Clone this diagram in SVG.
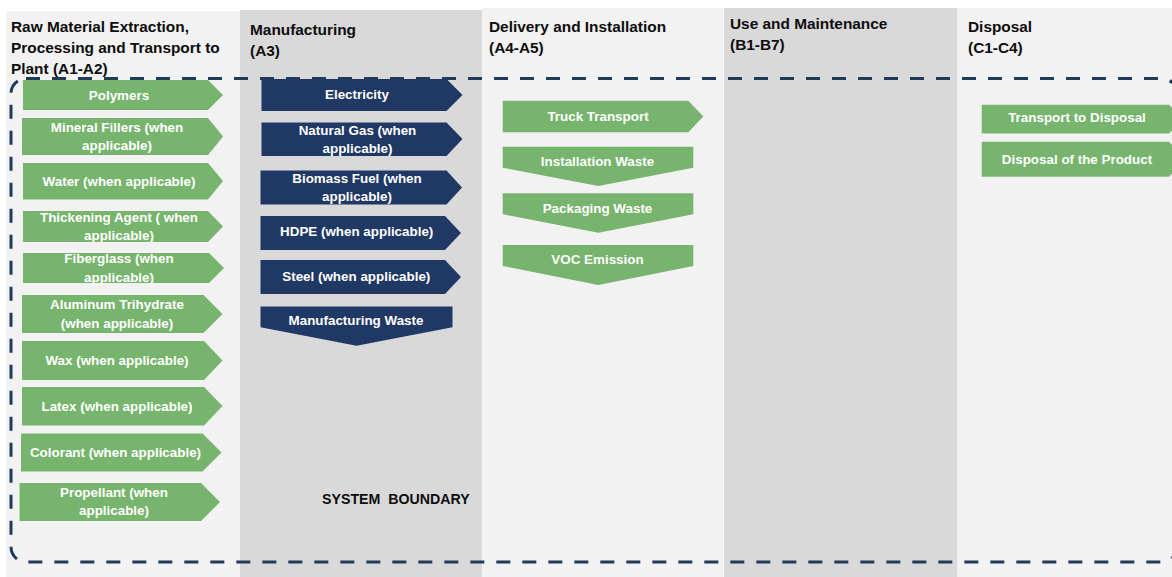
<svg xmlns="http://www.w3.org/2000/svg" width="1172" height="577" viewBox="0 0 1172 577">
<style>
.light{fill:#f2f2f2}
.dark{fill:#d9d9d9}
.hdr{font-family:"Liberation Sans",Arial,sans-serif;font-weight:bold;font-size:15.4px;fill:#0d0d0d}
.g{fill:#77b46d}
.n{fill:#1f3864}
.t{font-family:"Liberation Sans",Arial,sans-serif;font-weight:bold;font-size:13.4px;fill:#ffffff;text-anchor:middle}
.sb{font-family:"Liberation Sans",Arial,sans-serif;font-weight:bold;font-size:14.2px;fill:#0d0d0d;white-space:pre}
.bnd{fill:none;stroke:#1f3b59;stroke-width:3;stroke-dasharray:14 12}
</style>
<rect width="1172" height="577" fill="#ffffff"/>
<g id="columns">
<rect class="light" x="6" y="11" width="234" height="566"/>
<rect class="dark" x="240" y="10" width="242" height="567"/>
<rect class="light" x="482" y="8" width="241" height="569"/>
<rect class="dark" x="724" y="8" width="233" height="569"/>
<rect class="light" x="957" y="8" width="215" height="569"/>
</g>
<g id="headers">
<text class="hdr" x="11" y="32">Raw Material Extraction,</text>
<text class="hdr" x="11" y="53">Processing and Transport to</text>
<text class="hdr" x="11" y="74">Plant (A1-A2)</text>
<text class="hdr" x="250" y="34.5">Manufacturing</text>
<text class="hdr" x="250" y="55.5">(A3)</text>
<text class="hdr" x="489" y="32">Delivery and Installation</text>
<text class="hdr" x="489" y="53">(A4-A5)</text>
<text class="hdr" x="730" y="29">Use and Maintenance</text>
<text class="hdr" x="730" y="50">(B1-B7)</text>
<text class="hdr" x="968" y="32">Disposal</text>
<text class="hdr" x="968" y="53">(C1-C4)</text>
</g>
<g id="system-boundary">
<rect class="bnd" x="11" y="78.5" width="1166" height="483.5" rx="15" ry="15"/>
<text class="sb" x="322" y="504">SYSTEM  BOUNDARY</text>
</g>
<g id="connectors"></g>
<g id="polymers"><polygon class="g" points="23,80 208,80 223,95 208,110 23,110"/><text class="t" x="119" y="99.5">Polymers</text></g>
<g id="mineral-fillers"><polygon class="g" points="22,118 208,118 223,136.5 208,155 22,155"/><text class="t" x="117" y="131.5">Mineral Fillers (when</text><text class="t" x="117" y="150">applicable)</text></g>
<g id="water"><polygon class="g" points="23,163 208,163 223,181 208,199.5 23,199.5"/><text class="t" x="119" y="185.5">Water (when applicable)</text></g>
<g id="thickening-agent"><polygon class="g" points="23,211 208,211 223,226.5 208,242 23,242"/><text class="t" x="119" y="221.5">Thickening Agent ( when</text><text class="t" x="119" y="240">applicable)</text></g>
<g id="fiberglass"><polygon class="g" points="23,253 209,253 224,268 209,283 23,283"/><text class="t" x="119" y="263">Fiberglass (when</text><text class="t" x="119" y="281.5">applicable)</text></g>
<g id="aluminum-trihydrate"><polygon class="g" points="22,295 203.5,295 222.5,314 203.5,333 22,333"/><text class="t" x="117" y="309">Aluminum Trihydrate</text><text class="t" x="117" y="328">(when applicable)</text></g>
<g id="wax"><polygon class="g" points="22,341 204,341 222.5,360.5 204,380 22,380"/><text class="t" x="117" y="365">Wax (when applicable)</text></g>
<g id="latex"><polygon class="g" points="22,387 204,387 222.5,406 204,425.5 22,425.5"/><text class="t" x="117" y="410.5">Latex (when applicable)</text></g>
<g id="colorant"><polygon class="g" points="21,433.5 202.5,433.5 221.5,452.5 202.5,471.5 21,471.5"/><text class="t" x="115.5" y="456.5">Colorant (when applicable)</text></g>
<g id="propellant"><polygon class="g" points="19.5,483 201,483 220,502 201,521 19.5,521"/><text class="t" x="114" y="496.5">Propellant (when</text><text class="t" x="114" y="515">applicable)</text></g>
<g id="electricity"><polygon class="n" points="261.5,79 446.5,79 462.5,95 446.5,111 261.5,111"/><text class="t" x="357" y="99.3">Electricity</text></g>
<g id="natural-gas"><polygon class="n" points="261.5,122.5 446.5,122.5 462.5,139 446.5,156 261.5,156"/><text class="t" x="357.5" y="135">Natural Gas (when</text><text class="t" x="357.5" y="153.3">applicable)</text></g>
<g id="biomass-fuel"><polygon class="n" points="260.5,170.5 446.5,170.5 462,187.5 446.5,204.5 260.5,204.5"/><text class="t" x="357" y="182.5">Biomass Fuel (when</text><text class="t" x="357" y="200.5">applicable)</text></g>
<g id="hdpe"><polygon class="n" points="260.5,216 445,216 461,233 445,250 260.5,250"/><text class="t" x="356.7" y="235.5">HDPE (when applicable)</text></g>
<g id="steel"><polygon class="n" points="260.5,260 445,260 461,277 445,294 260.5,294"/><text class="t" x="356.3" y="280.5">Steel (when applicable)</text></g>
<g id="manufacturing-waste"><polygon class="n" points="260.5,306.5 452.5,306.5 452.5,327.3 356.5,345.7 260.5,327.3"/><text class="t" x="356" y="325">Manufacturing Waste</text></g>
<g id="truck-transport"><polygon class="g" points="502.7,100.7 688.3,100.7 703.3,116.5 688.3,132.3 502.7,132.3"/><text class="t" x="598" y="120.5">Truck Transport</text></g>
<g id="installation-waste"><polygon class="g" points="502.7,146.7 693.3,146.7 693.3,167.7 598.3,186 502.7,167.7"/><text class="t" x="597.5" y="165.5">Installation Waste</text></g>
<g id="packaging-waste"><polygon class="g" points="502.7,193.3 693.3,193.3 693.3,214.3 598.3,232.7 502.7,214.3"/><text class="t" x="597.5" y="213">Packaging Waste</text></g>
<g id="voc-emission"><polygon class="g" points="502.7,245 693.3,245 693.3,266 598.3,285 502.7,266"/><text class="t" x="597.5" y="264">VOC Emission</text></g>
<g id="transport-to-disposal"><polygon class="g" points="981.7,104.8 1169,104.8 1184,119 1169,133.5 981.7,133.5"/><text class="t" x="1077" y="122.3">Transport to Disposal</text></g>
<g id="disposal-of-product"><polygon class="g" points="981.7,141.7 1169,141.7 1186,159.2 1169,176.7 981.7,176.7"/><text class="t" x="1077" y="163.5">Disposal of the Product</text></g>
</svg>
